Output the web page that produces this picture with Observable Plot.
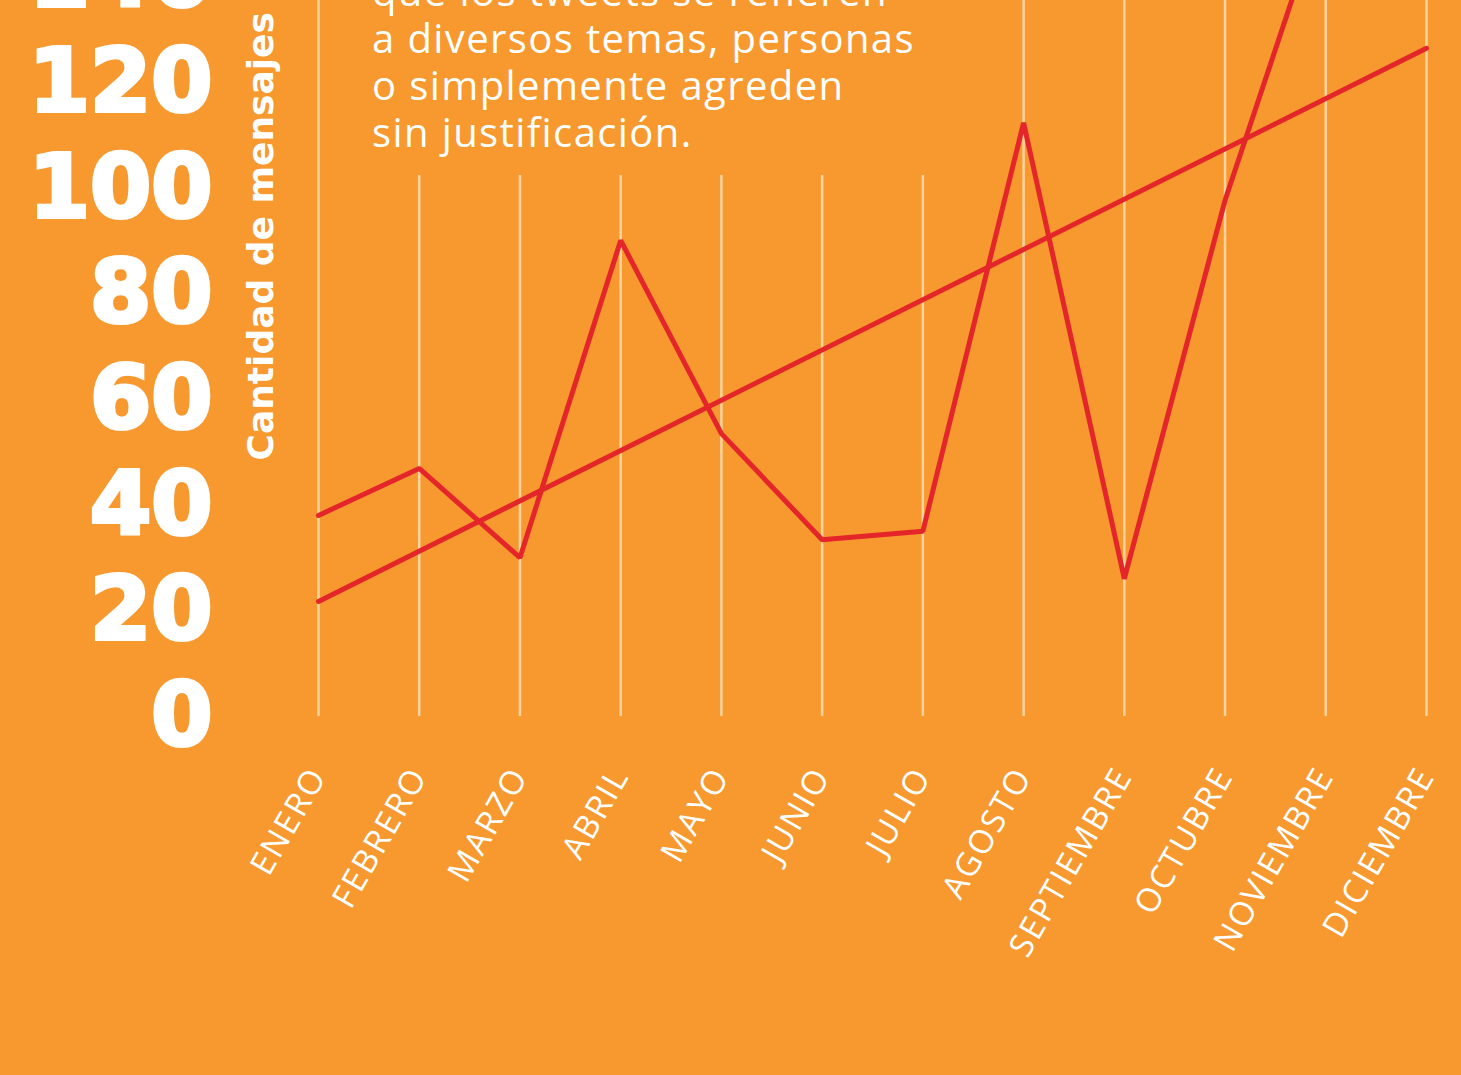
<!DOCTYPE html>
<html>
<head>
<meta charset="utf-8">
<script src="https://cdn.jsdelivr.net/npm/d3@7"></script>
<script src="https://cdn.jsdelivr.net/npm/@observablehq/plot@0.6"></script>
<style>
  html, body { margin: 0; padding: 0; background: #F7992E; }
  #wrap { position: relative; width: 1461px; height: 1075px; overflow: hidden; background: #F7992E; }
  #chart { position: absolute; left: 0; top: -234px; }
  #note { position: absolute; left: 335px; top: 0; width: 625px; height: 175px; background: #F7992E; }
  #note .txt { position: absolute; left: 37px; top: -33px; font: 400 40px/47px "Open Sans", sans-serif; letter-spacing: 1.4px; color: #fff; white-space: nowrap; }
  g[aria-label="y-axis tick label"] { font: 700 88px "DejaVu Sans", sans-serif; fill: #fff; stroke: #fff; stroke-width: 4px; }
  g[aria-label="x-axis tick label"] { font: 400 33px "Open Sans", sans-serif; letter-spacing: 2px; fill: #fff; }
</style>
</head>
<body>
<div id="wrap">
  <div id="chart"></div>
  <div id="note"><div class="txt"></div></div>
</div>
<script>
// Months (x categories)
const meses = ["ENERO","FEBRERO","MARZO","ABRIL","MAYO","JUNIO","JULIO","AGOSTO","SEPTIEMBRE","OCTUBRE","NOVIEMBRE","DICIEMBRE"];
// Cantidad de mensajes per month (last two run above the visible crop, estimated)
const mensajes = [38.1, 47.0, 30.1, 90.2, 53.6, 33.5, 35.1, 112.5, 26.1, 97.8, 155, 150];
// Trend line endpoints (ENERO, DICIEMBRE)
const tendenciaMeses = ["ENERO", "DICIEMBRE"];
const tendencia = [21.8, 126.6];
// Y tick labels
const yTicks = [0, 20, 40, 60, 80, 100, 120, 140, 160, 180];
// Texts
const yTitle = "Cantidad de mensajes";
const nota = ["que los tweets se refieren", "a diversos temas, personas", "o simplemente agreden", "sin justificación."];

const serie = meses.map((m, i) => ({mes: m, v: mensajes[i]}));
const trend = tendenciaMeses.map((m, i) => ({mes: m, v: tendencia[i]}));

const chart = Plot.plot({
  width: 1461,
  height: 1309,
  marginTop: 0,
  marginBottom: 359,
  marginLeft: 318,
  marginRight: 35,
  style: {background: "transparent", color: "#fff", overflow: "visible", maxWidth: "none"},
  x: {type: "point", domain: meses, padding: 0, round: false, label: null},
  y: {domain: [0, 180], label: null},
  marks: [
    Plot.ruleX(meses, {stroke: "#FDD3A0", strokeWidth: 2.5}),
    Plot.axisY({ticks: yTicks, tickSize: 0, tickPadding: 106, label: null}),
    Plot.axisX({tickRotate: -60, tickSize: 0, tickPadding: 54, label: null}),
    Plot.line(trend, {x: "mes", y: "v", stroke: "#E4262B", strokeWidth: 5}),
    Plot.line(serie, {x: "mes", y: "v", stroke: "#E4262B", strokeWidth: 5, strokeLinejoin: "miter"}),
    Plot.text([yTitle], {frameAnchor: "bottom-left", rotate: -90, textAnchor: "start", dx: -46, dy: -256,
      fill: "#fff", fontSize: 36, fontWeight: 700, fontFamily: "DejaVu Sans"})
  ]
});
document.getElementById("chart").appendChild(chart);
document.querySelector("#note .txt").innerHTML = nota.join("<br>");
</script>
</body>
</html>
